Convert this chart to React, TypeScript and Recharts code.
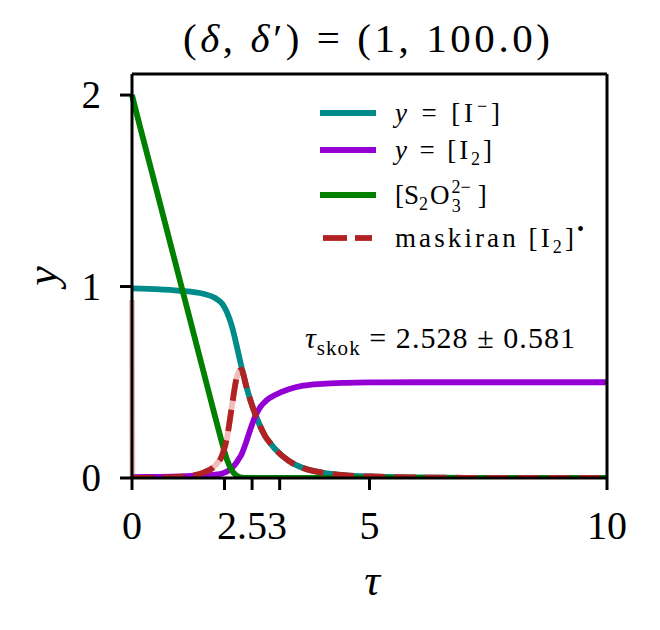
import { Legend, Line, LineChart, ReferenceLine, XAxis, YAxis } from "recharts";

const tau = [0, 0.01, 0.5, 1.0, 1.5, 1.75, 1.9, 2.0, 2.1, 2.2, 2.25, 2.31, 2.35, 2.4, 2.5, 2.6, 2.7, 2.8, 2.9, 3.0, 3.3, 3.6, 4.0, 4.5, 5, 6, 7, 8, 10];
const iodide = [0.99, 0.99, 0.986, 0.978, 0.962, 0.94, 0.91, 0.865, 0.795, 0.695, 0.64, 0.575, 0.535, 0.485, 0.4, 0.33, 0.27, 0.22, 0.185, 0.155, 0.09, 0.052, 0.028, 0.014, 0.008, 0.003, 0.001, 0, 0];
const iodine = [0.005, 0.005, 0.006, 0.008, 0.013, 0.018, 0.024, 0.034, 0.052, 0.08, 0.1, 0.125, 0.15, 0.185, 0.26, 0.325, 0.37, 0.398, 0.418, 0.432, 0.463, 0.482, 0.492, 0.497, 0.499, 0.5, 0.5, 0.5, 0.5];
const thiosulfate = [2.0, 1.99, 1.52, 1.04, 0.56, 0.32, 0.18, 0.095, 0.04, 0.012, 0.006, 0.002, 0.001, 0, 0, 0, 0, 0, 0, 0, 0, 0, 0, 0, 0, 0, 0, 0, 0];
const masked = [0, 0, 0.002, 0.006, 0.028, 0.065, 0.12, 0.21, 0.37, 0.52, 0.555, 0.566, 0.535, 0.485, 0.4, 0.33, 0.27, 0.22, 0.185, 0.155, 0.09, 0.052, 0.028, 0.014, 0.008, 0.003, 0.001, 0, 0];
const maskedRaw = [0.93, 0, 0.002, 0.006, 0.028, 0.065, 0.12, 0.21, 0.37, 0.52, 0.555, 0.566, 0.535, 0.485, 0.4, 0.33, 0.27, 0.22, 0.185, 0.155, 0.09, 0.052, 0.028, 0.014, 0.008, 0.003, 0.001, 0, 0];

const tauSkok = 2.528;
const tauErr = 0.581;
const xTicks = [0, 1.947, 2.528, 3.109, 5, 10];
const xTickLabels: Record<string, string> = { "0": "0", "2.528": "2.53", "5": "5", "10": "10" };
const yTicks = [0, 1, 2];

const data = tau.map((t, i) => ({
  tau: t,
  iodide: iodide[i],
  iodine: iodine[i],
  thiosulfate: thiosulfate[i],
  masked: masked[i],
  maskedRaw: maskedRaw[i],
}));

const FONT = "'Liberation Serif', 'DejaVu Serif', serif";
const LW = 5.8;

const XTick = ({ x, y, payload }: any) => {
  const label = xTickLabels[String(payload.value)];
  if (!label) return null;
  return (
    <text x={x} y={y + 47} textAnchor="middle" fontFamily={FONT} fontSize={40} fill="#000">
      {label}
    </text>
  );
};

const YTick = ({ x, y, payload }: any) => (
  <text x={x - 17} y={y + 13} textAnchor="end" fontFamily={FONT} fontSize={39} fill="#000">
    {payload.value}
  </text>
);

const legendRows = [
  { color: "#008b8b", dashed: false, y: 20 },
  { color: "#9400d3", dashed: false, y: 57 },
  { color: "#008000", dashed: false, y: 102 },
  { color: "#b22222", dashed: true, y: 145 },
];

const renderLegend = () => (
  <svg width={300} height={170} style={{ display: "block" }}>
    {legendRows.map((r, i) =>
      r.dashed ? (
        <g key={i}>
          <line x1={8} x2={32} y1={r.y} y2={r.y} stroke={r.color} strokeWidth={LW} />
          <line x1={40} x2={57} y1={r.y} y2={r.y} stroke={r.color} strokeWidth={LW} />
        </g>
      ) : (
        <line key={i} x1={5} x2={61} y1={r.y} y2={r.y} stroke={r.color} strokeWidth={LW} />
      )
    )}
    <g fontFamily={FONT} fontSize={27} fill="#000">
      <text x={80} y={29} textLength={105} lengthAdjust="spacing">
        <tspan fontStyle="italic">y</tspan> = [I<tspan dy={-10} fontSize={18}>−</tspan><tspan dy={10}>]</tspan>
      </text>
      <text x={80} y={66} textLength={97} lengthAdjust="spacing">
        <tspan fontStyle="italic">y</tspan> = [I<tspan dy={6} fontSize={18}>2</tspan><tspan dy={-6}>]</tspan>
      </text>
      <text x={80} y={111}>
        [S<tspan dy={6} fontSize={18}>2</tspan><tspan dx={2} dy={-6}>O</tspan>
        <tspan dx={2} dy={-11} fontSize={18}>2−</tspan>
        <tspan dx={-19} dy={19} fontSize={18}>3</tspan>
        <tspan dx={17} dy={-8}>]</tspan>
      </text>
      <text x={80} y={154} textLength={189} lengthAdjust="spacing">
        maskiran [I<tspan dy={6} fontSize={18}>2</tspan><tspan dy={-6}>]</tspan>
        <tspan dy={-11} fontSize={20}>•</tspan>
      </text>
    </g>
  </svg>
);

export default function App() {
  return (
    <div style={{ position: "absolute", left: 0, top: 0, width: 660, height: 630, background: "#fff" }}>
      <LineChart
        width={660}
        height={630}
        data={data}
        margin={{ top: 74, right: 53, left: 72, bottom: 92 }}
      >
        <XAxis
          dataKey="tau"
          type="number"
          domain={[0, 10]}
          ticks={xTicks}
          tick={<XTick />}
          height={60}
          interval={0}
          tickSize={12}
          axisLine={{ stroke: "#000", strokeWidth: 3 }}
          tickLine={{ stroke: "#000", strokeWidth: 3 }}
        />
        <YAxis
          type="number"
          domain={[0, 2.11]}
          allowDataOverflow
          ticks={yTicks}
          tick={<YTick />}
          width={60}
          interval={0}
          tickSize={12}
          axisLine={{ stroke: "#000", strokeWidth: 3 }}
          tickLine={{ stroke: "#000", strokeWidth: 3 }}
        />
        <Line type="monotone" dataKey="maskedRaw" stroke="#f2bcbc" strokeWidth={LW} dot={false} isAnimationActive={false} />
        <Line type="monotone" dataKey="iodide" stroke="#008b8b" strokeWidth={LW} dot={false} isAnimationActive={false} />
        <Line type="monotone" dataKey="iodine" stroke="#9400d3" strokeWidth={LW} dot={false} isAnimationActive={false} />
        <Line type="monotone" dataKey="thiosulfate" stroke="#008000" strokeWidth={LW} dot={false} isAnimationActive={false} />
        <Line
          type="monotone"
          dataKey="masked"
          stroke="#b22222"
          strokeWidth={LW}
          strokeDasharray="21.5 9.3"
          dot={false}
          isAnimationActive={false}
        />
        <ReferenceLine y={2.11} stroke="#000" strokeWidth={3} />
        <ReferenceLine x={10} stroke="#000" strokeWidth={3} />
        <Legend
          layout="vertical"
          align="center"
          verticalAlign="middle"
          content={renderLegend}
          wrapperStyle={{ position: "absolute", left: 315, top: 93, width: 300, height: 170, pointerEvents: "none" }}
        />
      </LineChart>
      <svg width={660} height={630} style={{ position: "absolute", left: 0, top: 0, pointerEvents: "none" }}>
        <g fontFamily={FONT} fill="#000">
          <text x={183} y={52} fontSize={41} textLength={367} lengthAdjust="spacing">
            (<tspan fontStyle="italic">δ</tspan>, <tspan fontStyle="italic">δ</tspan>′) = (1, 100.0)
          </text>
          <text transform="translate(57,276) rotate(-90)" textAnchor="middle" fontSize={44} fontStyle="italic">y</text>
          <text x={372} y={595} textAnchor="middle" fontSize={44} fontStyle="italic">τ</text>
          <text x={305} y={348} fontSize={30} textLength={270} lengthAdjust="spacing">
            <tspan fontStyle="italic">τ</tspan>
            <tspan dy={7} fontSize={21}>skok</tspan>
            <tspan dy={-7}> = {tauSkok.toFixed(3)} ± {tauErr.toFixed(3)}</tspan>
          </text>
        </g>
      </svg>
    </div>
  );
}
